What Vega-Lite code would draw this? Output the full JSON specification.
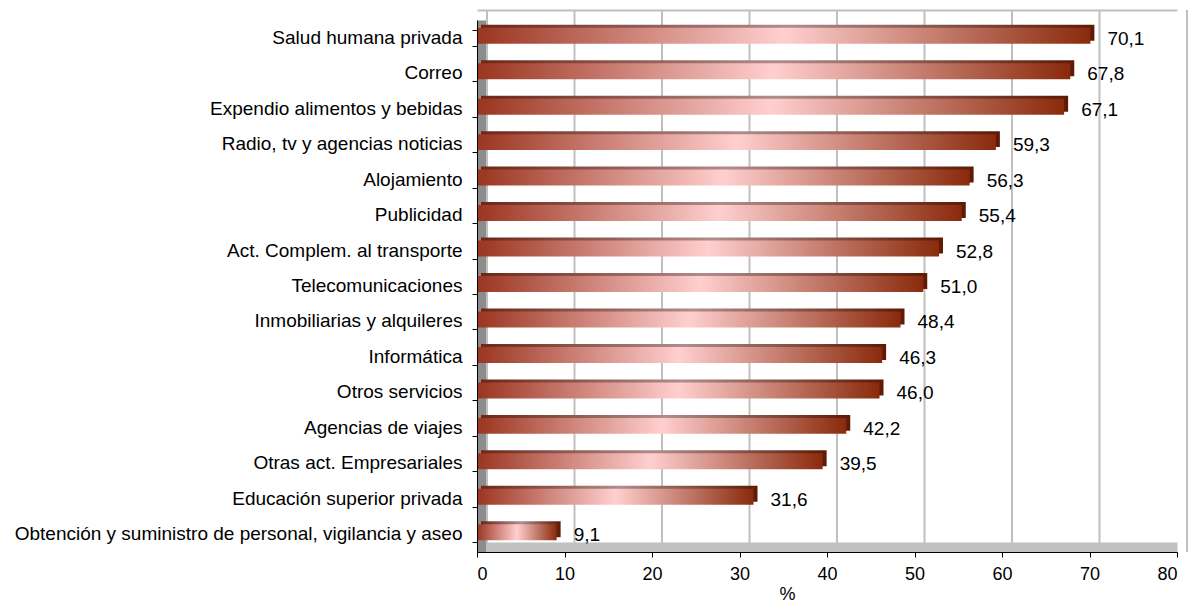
{
  "$schema": "https://vega.github.io/schema/vega-lite/v6.json",
  "width": 700,
  "height": 532,
  "autosize": {"type": "none"},
  "padding": {"left": 477, "top": 20, "right": 16, "bottom": 52},
  "background": "white",
  "config": {
    "font": "Liberation Sans",
    "view": {"stroke": null},
    "locale": {"number": {"decimal": ",", "thousands": ".", "grouping": [3], "currency": ["", " €"]}}
  },
  "datasets": {
    "sectors": [
      {"sector": "Salud humana privada", "pct": 70.1},
      {"sector": "Correo", "pct": 67.8},
      {"sector": "Expendio alimentos y bebidas", "pct": 67.1},
      {"sector": "Radio, tv y agencias noticias", "pct": 59.3},
      {"sector": "Alojamiento", "pct": 56.3},
      {"sector": "Publicidad", "pct": 55.4},
      {"sector": "Act. Complem. al transporte", "pct": 52.8},
      {"sector": "Telecomunicaciones", "pct": 51.0},
      {"sector": "Inmobiliarias y alquileres", "pct": 48.4},
      {"sector": "Informática", "pct": 46.3},
      {"sector": "Otros servicios", "pct": 46.0},
      {"sector": "Agencias de viajes", "pct": 42.2},
      {"sector": "Otras act. Empresariales", "pct": 39.5},
      {"sector": "Educación superior privada", "pct": 31.6},
      {"sector": "Obtención y suministro de personal, vigilancia y aseo", "pct": 9.1}
    ],
    "grid": [{"v": 0}, {"v": 10}, {"v": 20}, {"v": 30}, {"v": 40}, {"v": 50}, {"v": 60}, {"v": 70}, {"v": 80}]
  },
  "resolve": {"axis": {"x": "independent", "y": "independent"}},
  "layer": [
    {
      "data": {"name": "grid"},
      "mark": {"type": "rule", "color": "#c0c0c0", "strokeWidth": 2, "xOffset": 10, "yOffset": -10, "y2Offset": -10},
      "encoding": {
        "x": {
          "field": "v", "type": "quantitative",
          "scale": {"domain": [0, 80], "nice": false},
          "axis": {"orient": "bottom", "offset": -5, "domainColor": "#c0c0c0", "domainWidth": 10, "ticks": false, "labels": false, "title": null, "grid": false, "zindex": 0}
        }
      }
    },
    {
      "data": {"name": "sectors"},
      "mark": {
        "type": "bar",
        "xOffset": 4, "x2Offset": 4, "yOffset": -5, "y2Offset": -5,
        "color": {"gradient": "linear", "x1": 0, "x2": 1, "y1": 0, "y2": 0,
          "stops": [{"offset": 0, "color": "#6e2616"}, {"offset": 0.5, "color": "#b08c8c"}, {"offset": 1, "color": "#5e1a04"}]}
      },
      "encoding": {
        "x": {"field": "pct", "type": "quantitative", "scale": {"domain": [0, 80], "nice": false}, "axis": null},
        "y": {
          "field": "sector", "type": "nominal", "sort": null,
          "scale": {"paddingInner": 0.55, "paddingOuter": 0.275},
          "axis": {"orient": "left", "offset": -5, "domainColor": "#8c8c8c", "domainWidth": 10, "ticks": true, "tickColor": "black", "tickWidth": 1, "tickSize": 10, "tickBand": "extent", "labels": false, "title": null, "grid": false, "zindex": 0}
        }
      }
    },
    {
      "data": {"name": "sectors"},
      "mark": {
        "type": "bar",
        "yOffset": -2, "y2Offset": -2,
        "color": {"gradient": "linear", "x1": 0, "x2": 1, "y1": 0, "y2": 0,
          "stops": [{"offset": 0, "color": "#9a3520"}, {"offset": 0.5, "color": "#ffcfcf"}, {"offset": 1, "color": "#8a2a0c"}]}
      },
      "encoding": {
        "x": {
          "field": "pct", "type": "quantitative", "scale": {"domain": [0, 80], "nice": false},
          "axis": {"orient": "bottom", "values": [0, 10, 20, 30, 40, 50, 60, 70, 80], "domainColor": "black", "domainWidth": 1, "tickColor": "black", "tickSize": 5, "labelFontSize": 18, "labelColor": "black", "labelPadding": 8, "labelFont": "Liberation Sans", "title": "%", "titleFontSize": 18, "titleFontWeight": "normal", "titleColor": "black", "titleFont": "Liberation Sans", "titleX": 310, "titleAlign": "center", "titlePadding": 2, "grid": false, "zindex": 1}
        },
        "y": {
          "field": "sector", "type": "nominal", "sort": null,
          "scale": {"paddingInner": 0.55, "paddingOuter": 0.275},
          "axis": {"orient": "left", "domainColor": "black", "domainWidth": 1, "ticks": false, "labelFontSize": 19, "labelColor": "black", "labelFont": "Liberation Sans", "labelPadding": 15, "labelLimit": 700, "title": null, "grid": false, "zindex": 1}
        }
      }
    },
    {
      "data": {"name": "sectors"},
      "mark": {"type": "text", "align": "left", "baseline": "middle", "dx": 17, "dy": 1, "fontSize": 19, "color": "black", "font": "Liberation Sans"},
      "encoding": {
        "x": {
          "field": "pct", "type": "quantitative", "scale": {"domain": [0, 80], "nice": false},
          "axis": {"orient": "top", "offset": 10, "domainColor": "#c0c0c0", "domainWidth": 2, "ticks": false, "labels": false, "title": null, "grid": false, "zindex": 0}
        },
        "y": {"field": "sector", "type": "nominal", "sort": null, "axis": null},
        "text": {"field": "pct", "type": "quantitative", "format": ".1f"}
      }
    }
  ]
}
